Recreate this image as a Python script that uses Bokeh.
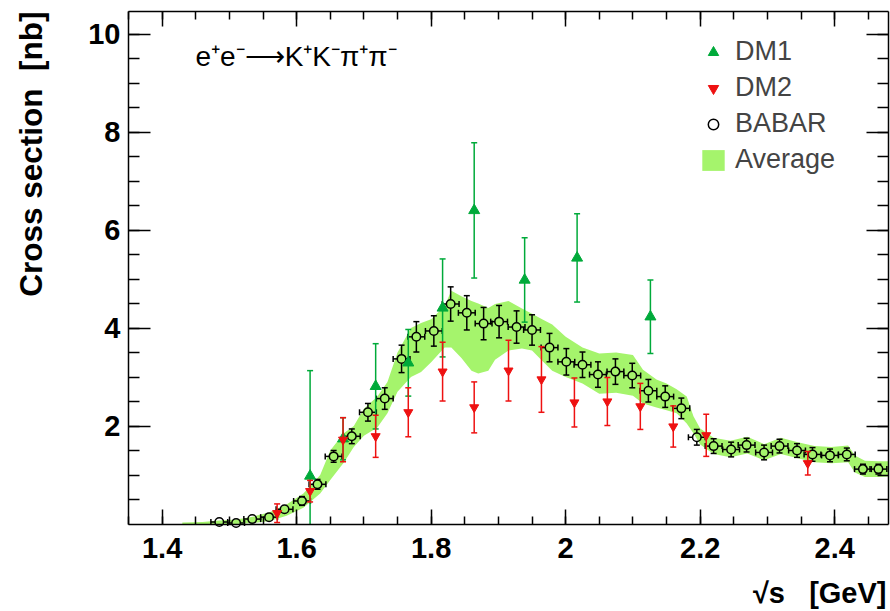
import numpy as np
from bokeh.plotting import figure
from bokeh.models import (Range1d, FixedTicker, LinearAxis, Label, Legend, LegendItem,
                          CustomJSTickFormatter, ColumnDataSource)
from bokeh.embed import file_html
from bokeh.resources import INLINE

# ---------------- data ----------------
babar_x = [1.485, 1.510, 1.534, 1.559, 1.582, 1.608, 1.631, 1.655, 1.682, 1.706,
           1.731, 1.756, 1.778, 1.804, 1.829, 1.853, 1.878, 1.901, 1.927, 1.950,
           1.976, 2.001, 2.025, 2.048, 2.074, 2.099, 2.123, 2.148, 2.172, 2.195,
           2.220, 2.246, 2.269, 2.295, 2.318, 2.344, 2.367, 2.393, 2.418, 2.442, 2.465]
babar_y = [0.04, 0.02, 0.10, 0.14, 0.30, 0.47, 0.81, 1.38, 1.79, 2.28,
           2.56, 3.37, 3.82, 3.94, 4.49, 4.31, 4.09, 4.13, 4.02, 3.96,
           3.60, 3.31, 3.25, 3.05, 3.11, 3.03, 2.72, 2.60, 2.36, 1.77,
           1.59, 1.52, 1.61, 1.46, 1.59, 1.50, 1.42, 1.40, 1.42, 1.12, 1.12]
babar_err = [0.03, 0.03, 0.04, 0.05, 0.07, 0.09, 0.10, 0.12, 0.15, 0.18,
             0.22, 0.28, 0.31, 0.31, 0.35, 0.35, 0.33, 0.33, 0.33, 0.31,
             0.29, 0.27, 0.26, 0.26, 0.26, 0.25, 0.23, 0.22, 0.21, 0.16,
             0.15, 0.15, 0.14, 0.15, 0.14, 0.14, 0.14, 0.13, 0.13, 0.10, 0.10]
babar_xerr = 0.0125

dm1_x = [1.620, 1.669, 1.7175, 1.766, 1.817, 1.864, 1.939, 2.017, 2.126]
dm1_y = [0.98, 1.74, 2.81, 3.29, 4.41, 6.40, 4.98, 5.43, 4.23]
dm1_err = [2.15, 0.43, 0.87, 0.68, 1.00, 1.38, 0.86, 0.90, 0.75]

dm2_x = [1.571, 1.620, 1.669, 1.7175, 1.766, 1.817, 1.864, 1.915, 1.964, 2.013,
         2.062, 2.111, 2.160, 2.209, 2.360]
dm2_y = [0.22, 0.67, 1.72, 1.79, 2.28, 3.11, 2.38, 3.13, 2.95, 2.48,
         2.50, 2.40, 1.99, 1.81, 1.24]
dm2_err = [0.19, 0.22, 0.45, 0.43, 0.50, 0.60, 0.52, 0.62, 0.67, 0.50,
           0.49, 0.47, 0.42, 0.43, 0.24]

band_x = [1.43, 1.46, 1.485, 1.51, 1.535, 1.56, 1.585, 1.61, 1.635, 1.65,
          1.67, 1.685, 1.70, 1.72, 1.735, 1.75, 1.77, 1.785, 1.80, 1.82,
          1.83, 1.845, 1.86, 1.87, 1.885, 1.895, 1.915, 1.935, 1.95, 1.965,
          1.98, 2.00, 2.025, 2.05, 2.075, 2.10, 2.115, 2.135, 2.15, 2.165,
          2.18, 2.19, 2.20, 2.22, 2.245, 2.27, 2.295, 2.32, 2.345, 2.37,
          2.395, 2.42, 2.43, 2.445, 2.465, 2.48]
band_lo = [-0.05, -0.05, -0.03, -0.02, 0.02, 0.06, 0.17, 0.33, 0.62, 0.90,
           1.25, 1.57, 1.80, 1.97, 2.26, 2.70, 3.00, 3.10, 3.30, 3.60,
           3.60, 3.39, 3.13, 3.07, 3.13, 3.35, 3.54, 3.58, 3.54, 3.33,
           3.13, 3.00, 2.87, 2.66, 2.68, 2.62, 2.46, 2.38, 2.32, 2.26,
           2.05, 1.85, 1.62, 1.43, 1.36, 1.44, 1.30, 1.43, 1.34, 1.26,
           1.24, 1.26, 1.05, 0.96, 0.96, 0.97]
band_hi = [0.03, 0.04, 0.07, 0.09, 0.15, 0.24, 0.40, 0.62, 1.00, 1.50,
           1.85, 2.00, 2.35, 2.60, 2.90, 3.50, 4.00, 4.10, 4.18, 4.45,
           4.76, 4.65, 4.55, 4.50, 4.41, 4.49, 4.55, 4.40, 4.29, 4.18,
           4.07, 3.82, 3.60, 3.48, 3.50, 3.45, 3.15, 2.95, 2.87, 2.75,
           2.60, 2.20, 1.95, 1.76, 1.70, 1.78, 1.63, 1.76, 1.67, 1.59,
           1.57, 1.60, 1.40, 1.29, 1.28, 1.28]

x_major_ticks = [1.4, 1.6, 1.8, 2.0, 2.2, 2.4]
x_minor_ticks = [round(v, 2) for v in np.arange(1.35, 2.481, 0.05)]
y_major_ticks = [2, 4, 6, 8, 10]
y_minor_ticks = [round(v, 1) for v in np.arange(0.5, 10.41, 0.5)]

title_text = "e\u207ae\u207b\u27f6K\u207aK\u207b\u03c0\u207a\u03c0\u207b"
x_title = "\u221as\u00a0\u00a0\u00a0[GeV]"
y_title = "Cross section\u00a0\u00a0[nb]"

# ---------------- geometry / style ----------------
FONT = "Liberation Sans"
BAND = "#a5f46c"
GREEN = "#00aa3a"
RED = "#ee1111"
W, H = 890, 611
AX0, AX1, AY0, AY1 = 1.35, 2.48, 0.0, 10.47          # axis box in data units
FL, FR, FT, FB = 128, 888, 10.5, 523.5                # axis box in pixels
PX_X = (FR - FL) / (AX1 - AX0)
PX_Y = (FB - FT) / (AY1 - AY0)
XS = AX0 - FL / PX_X
XE = XS + W / PX_X
YE = AY1 + FT / PX_Y
YS = AY0 - (H - FB) / PX_Y

def sx(px):
    return XS + px / PX_X

def sy(py):
    return YE - py / PX_Y

p = figure(width=W, height=H, x_range=Range1d(XS, XE), y_range=Range1d(YS, YE),
           output_backend="svg", toolbar_location=None, min_border=0)
p.grid.visible = False
p.outline_line_color = None
p.background_fill_color = "white"
p.border_fill_color = "white"

fmt = CustomJSTickFormatter(code="return String(Number(tick.toFixed(2)));")
blank = CustomJSTickFormatter(code="return '';")

def style_axis(ax, tin, mtin, labels):
    ax.major_tick_in = tin
    ax.major_tick_out = 0
    ax.minor_tick_in = mtin
    ax.minor_tick_out = 0
    ax.major_tick_line_width = 1.5
    ax.minor_tick_line_width = 1.5
    ax.axis_line_width = 1.5
    ax.axis_line_color = "black"
    if labels:
        ax.major_label_text_font = FONT
        ax.major_label_text_font_style = "bold"
        ax.major_label_text_font_size = "29px"
        ax.major_label_text_color = "black"
    else:
        ax.formatter = blank
        ax.major_label_text_font_size = "0px"
        ax.major_label_standoff = 0

xa = p.xaxis[0]
xa.ticker = FixedTicker(ticks=x_major_ticks, minor_ticks=x_minor_ticks)
xa.formatter = fmt
xa.fixed_location = AY0
xa.bounds = (AX0, AX1)
style_axis(xa, 15, 8, True)
xa.major_label_standoff = 14

ya = p.yaxis[0]
ya.ticker = FixedTicker(ticks=y_major_ticks, minor_ticks=y_minor_ticks)
ya.formatter = fmt
ya.fixed_location = AX0
ya.bounds = (AY0, AY1)
style_axis(ya, 22, 11, True)
ya.major_label_standoff = 8

top = LinearAxis(ticker=FixedTicker(ticks=x_major_ticks, minor_ticks=x_minor_ticks),
                 fixed_location=AY1, bounds=(AX0, AX1))
style_axis(top, 15, 8, False)
right = LinearAxis(ticker=FixedTicker(ticks=y_major_ticks, minor_ticks=y_minor_ticks),
                   fixed_location=AX1, bounds=(AY0, AY1))
style_axis(right, 22, 11, False)
p.add_layout(top, "above")
p.add_layout(right, "right")

# ---------------- band ----------------
r_band = p.varea(x=band_x, y1=np.maximum(np.asarray(band_lo), AY0), y2=band_hi,
                 fill_color=BAND, fill_alpha=1.0)

# ---------------- error bar helpers (clipped at the axis floor) ----------------
def vbars(x, y, err, gap, color, cap, lw=1.5):
    x = np.asarray(x, float); y = np.asarray(y, float); e = np.asarray(err, float)
    up = e > gap
    s_up = ColumnDataSource(dict(x=x[up], a=y[up] + gap, b=y[up] + e[up]))
    lo_end = np.maximum(y - e, AY0)
    dn = (y - gap) > lo_end
    s_dn = ColumnDataSource(dict(x=x[dn], a=np.maximum(y[dn] - gap, AY0), b=lo_end[dn]))
    capped = dn & ((y - e) >= AY0)
    s_cap = ColumnDataSource(dict(x=x[capped], b=(y - e)[capped]))
    p.segment(x0="x", y0="a", x1="x", y1="b", source=s_up, line_color=color, line_width=lw)
    p.segment(x0="x", y0="a", x1="x", y1="b", source=s_dn, line_color=color, line_width=lw)
    p.scatter(x="x", y="b", source=s_up, marker="dash", size=cap, line_color=color,
              line_width=lw)
    p.scatter(x="x", y="b", source=s_cap, marker="dash", size=cap, line_color=color,
              line_width=lw)

def hbars(x, y, xerr, gap, color, cap, lw=1.5):
    x = np.asarray(x, float); y = np.asarray(y, float)
    src = ColumnDataSource(dict(y=y, l0=x - gap, l1=x - xerr, r0=x + gap, r1=x + xerr))
    p.segment(x0="l0", y0="y", x1="l1", y1="y", source=src, line_color=color, line_width=lw)
    p.segment(x0="r0", y0="y", x1="r1", y1="y", source=src, line_color=color, line_width=lw)
    p.scatter(x="l1", y="y", source=src, marker="dash", angle=np.pi / 2, size=cap,
              line_color=color, line_width=lw)
    p.scatter(x="r1", y="y", source=src, marker="dash", angle=np.pi / 2, size=cap,
              line_color=color, line_width=lw)

# BABAR
vbars(babar_x, babar_y, babar_err, 4.2 / PX_Y, "black", 6)
hbars(babar_x, babar_y, babar_xerr, 4.2 / PX_X, "black", 6)
r_babar = p.scatter(x=babar_x, y=babar_y, marker="circle", size=8.5, line_color="black",
                    line_width=1.5, fill_alpha=0)

# DM1
vbars(dm1_x, dm1_y, dm1_err, 0, GREEN, 6)
r_dm1 = p.scatter(x=dm1_x, y=dm1_y, marker="triangle", size=11, line_color=GREEN,
                  fill_color=GREEN)
# DM2
vbars(dm2_x, dm2_y, dm2_err, 0, RED, 6)
r_dm2 = p.scatter(x=dm2_x, y=dm2_y, marker="inverted_triangle", size=9, line_color=RED,
                  fill_color=RED)

# ---------------- legend ----------------
legend = Legend(items=[LegendItem(label="DM1", renderers=[r_dm1]),
                       LegendItem(label="DM2", renderers=[r_dm2]),
                       LegendItem(label="BABAR", renderers=[r_babar]),
                       LegendItem(label="Average", renderers=[r_band])],
                location=(699, H - 175), border_line_alpha=0, background_fill_alpha=0,
                label_text_font=FONT, label_text_font_size="27px",
                glyph_width=28, glyph_height=26, label_height=26, spacing=5,
                padding=0, margin=0, label_standoff=8)
p.add_layout(legend)

# ---------------- texts ----------------
p.add_layout(Label(x=sx(195), y=sy(56), text=title_text, text_font=FONT,
                   text_font_size="28px", text_baseline="middle", text_align="left",
                   text_color="black"))
p.add_layout(Label(x=sx(886), y=sy(592), text=x_title, text_font=FONT,
                   text_font_style="bold", text_font_size="29px", text_baseline="middle",
                   text_align="right", text_color="black"))
p.add_layout(Label(x=sx(30), y=sy(11), text=y_title, text_font=FONT,
                   text_font_style="bold", text_font_size="31.5px", angle=np.pi / 2,
                   text_baseline="middle", text_align="right", text_color="black"))

open("out.html", "w").write(file_html(p, INLINE))
